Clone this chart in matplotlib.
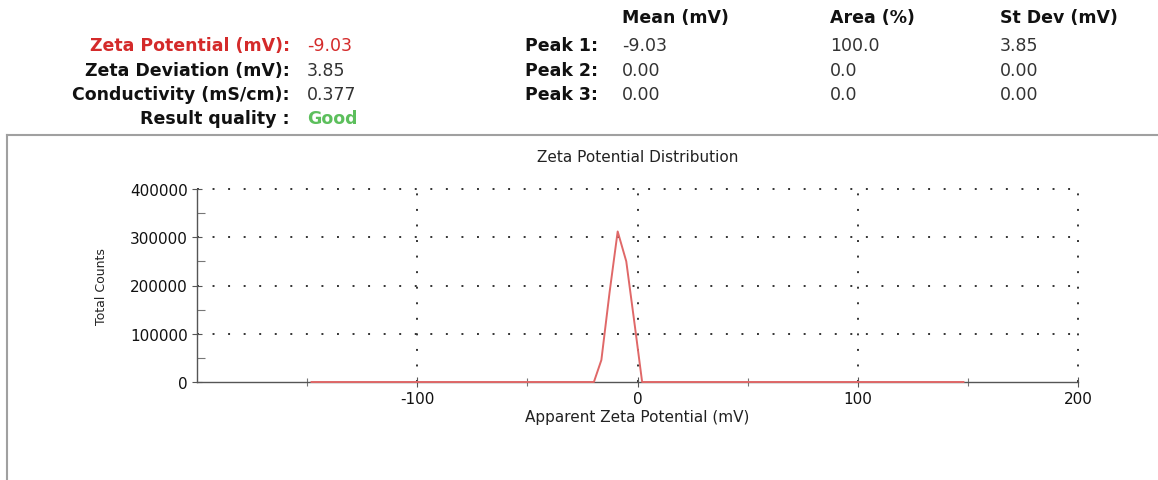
import numpy as np
import matplotlib
matplotlib.use('Agg')
import matplotlib.pyplot as plt
from matplotlib.lines import Line2D

plt.rcParams['axes.unicode_minus'] = False

# distribution
zeta_mv = [-148, -19.8, -16.4, -12.7, -9.0, -5.1, -1.2, 2.1, 148]
counts = [0, 0, 45600, 185000, 312000, 250000, 116000, 0, 0]

# summary block
summary_labels = ['Zeta Potential (mV):', 'Zeta Deviation (mV):',
                  'Conductivity (mS/cm):', 'Result quality :']
summary_values = ['-9.03', '3.85', '0.377', 'Good']

peak_cols = ['Mean (mV)', 'Area (%)', 'St Dev (mV)']
peak_rows = ['Peak 1:', 'Peak 2:', 'Peak 3:']
peak_mean = ['-9.03', '0.00', '0.00']
peak_area = ['100.0', '0.0', '0.0']
peak_sd = ['3.85', '0.00', '0.00']

x_ticks = [-100, 0, 100, 200]
x_minor = [-150, -50, 50, 150]
y_ticks = [0, 100000, 200000, 300000, 400000]
y_minor = [50000, 150000, 250000, 350000]

W, H = 1158, 481
fig = plt.figure(figsize=(W / 100, H / 100), dpi=100)


def px(x, y):
  return x / W, 1 - y / H


hs = 12.5
red = '#d42a2a'
green = '#5cbf5c'
dark = '#111111'

# left summary
rows_y = [46, 71, 95, 119]
for i, (lab, val) in enumerate(zip(summary_labels, summary_values)):
  c_lab = red if i == 0 else dark
  c_val = red if i == 0 else (green if i == 3 else '#333333')
  fig.text(*px(290, rows_y[i]), lab, ha='right', va='center', fontsize=hs,
           fontweight='bold', color=c_lab)
  fig.text(*px(307, rows_y[i]), val, ha='left', va='center', fontsize=hs,
           fontweight='bold' if i == 3 else 'normal', color=c_val)

# peak table
col_x = [622, 830, 1000]
for cx, name in zip(col_x, peak_cols):
  fig.text(*px(cx, 18), name, ha='left', va='center', fontsize=hs,
           fontweight='bold', color=dark)
for i, name in enumerate(peak_rows):
  fig.text(*px(598, rows_y[i]), name, ha='right', va='center', fontsize=hs,
           fontweight='bold', color=dark)
  for cx, col in zip(col_x, [peak_mean, peak_area, peak_sd]):
    fig.text(*px(cx, rows_y[i]), col[i], ha='left', va='center', fontsize=hs,
             color='#333333')

# outer frame of the chart panel
fig.add_artist(Line2D([7 / W, 7 / W], [0, 1 - 136 / H], transform=fig.transFigure,
                      color='#a0a0a0', lw=1.5))
fig.add_artist(Line2D([7 / W, 1], [1 - 136 / H, 1 - 136 / H], transform=fig.transFigure,
                      color='#a0a0a0', lw=1.5))

# chart
ax = fig.add_axes([197 / W, 98 / H, 881 / W, 193 / H])
ax.plot(zeta_mv, counts, color='#e06868', lw=1.4, zorder=4, clip_on=False)

ax.set_xlim(-200, 200)
ax.set_ylim(0, 400000)
ax.set_xticks(x_ticks)
ax.set_xticks(x_minor, minor=True)
ax.set_yticks(y_ticks)
ax.set_yticks(y_minor, minor=True)
ax.set_yticklabels([str(v) for v in y_ticks])

for s in ['top', 'right']:
  ax.spines[s].set_visible(False)
for s in ['left', 'bottom']:
  ax.spines[s].set_color('#555555')
  ax.spines[s].set_linewidth(1)

ax.tick_params(axis='both', which='major', direction='inout', length=7,
               width=0.8, color='#555555', labelsize=11, labelcolor='#111111', pad=3)
ax.tick_params(axis='x', which='minor', direction='inout', length=6,
               width=0.8, color='#777777')
ax.tick_params(axis='y', which='minor', direction='in', length=6,
               width=0.8, color='#777777')

dots = (0, (1, 7))
for v in x_ticks:
  ax.axvline(v, color='#333333', lw=1.4, ls=dots, zorder=1, clip_on=False)
for v in y_ticks[1:]:
  ax.axhline(v, color='#333333', lw=1.4, ls=dots, zorder=1, clip_on=False)

ax.set_title('Zeta Potential Distribution', fontsize=11, color='#222222', pad=20)
ax.set_xlabel('Apparent Zeta Potential (mV)', fontsize=11, color='#222222', labelpad=2)
ax.set_ylabel('Total Counts', fontsize=9, color='#222222', labelpad=16)

fig.savefig('out.png', dpi=100)
